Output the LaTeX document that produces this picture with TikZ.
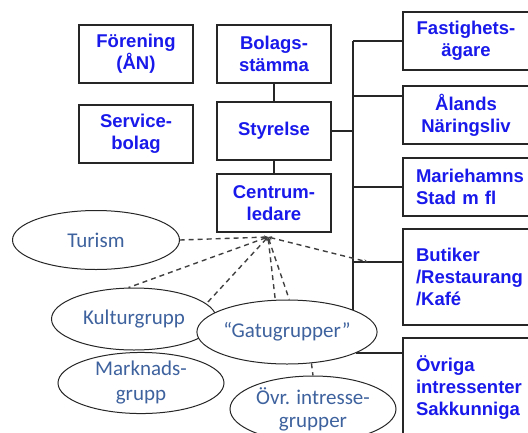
\documentclass[tikz,border=0pt]{standalone}
\usepackage{fontspec}
\setmainfont{Liberation Sans}
\newfontfamily\calibri{Carlito}
\usetikzlibrary{arrows.meta,shapes.geometric}
\definecolor{boxblue}{RGB}{25,25,235}
\definecolor{grpblue}{RGB}{62,98,158}

\begin{document}
\begin{tikzpicture}[x=1pt,y=-1pt,
		box/.style={draw=black!85,line width=1.6pt,fill=white,text=boxblue,font=\bfseries\fontsize{18.5}{22}\selectfont,align=center,minimum width=114,minimum height=58,inner sep=0pt},
		side box/.style={box,minimum width=126},
		grp/.style={ellipse,draw=black!85,line width=1pt,fill=white,text=grpblue,font=\calibri\fontsize{21}{25}\selectfont,align=center,inner sep=0pt,minimum width=166,minimum height=62},
		link/.style={line width=1.5pt,draw=black!85},
		loose/.style={line width=1.4pt,draw=black!75,dash pattern=on 5pt off 4pt},
		tip/.style={{Stealth[length=4pt,width=3.5pt]}-}]
		\useasboundingbox (0,0) rectangle (528,432);
		\clip (0,0) rectangle (528,432);
		% boxes
		\node[box] (forening) at (136,54) {Förening\\(ÅN)};
		\node[box] (service) at (136,134) {Service-\\bolag};
		\node[box] (stamma) at (274,54) {Bolags-\\stämma};
		\node[box] (styrelse) at (274,131) {Styrelse};
		\node[box] (ledare) at (274,203) {Centrum-\\ledare};
		\node[side box] (fastighet) at (466,41) {Fastighets-\\ägare};
		\node[side box] (aland) at (466,115) {Ålands\\Näringsliv};
		\node[side box,align=left,text width=100pt] (mhamn) at (466,187) {Mariehamns\\Stad m fl};
		\node[side box,align=left,text width=100pt,minimum height=96] (butik) at (466,277) {Butiker\\/Restaurang\\/Kafé};
		\node[side box,align=left,text width=100pt,minimum height=100] (ovriga) at (466,388) {Övriga\\intressenter\\Sakkunniga};
		% groups
		\node[grp,minimum width=167,minimum height=59] (turism) at (96,240) {Turism};
		\node[grp,minimum width=165] (kultur) at (134,319) {Kulturgrupp};
		\node[grp,minimum height=61] (marknad) at (141,383) {Marknads-\\grupp};
		\node[grp,minimum width=165,minimum height=64] (gatu) at (287,332) {“Gatugrupper”};
		\node[grp,minimum height=66,font=\calibri\fontsize{21}{23}\selectfont] (ovr) at (313,409) {Övr. intresse-\\grupper};
		\coordinate (hub) at (268,237);
		\coordinate (btip) at (368,262);
		\coordinate (bustop) at (353,41);
		\coordinate (busend) at (353,310);
		% solid lines
		\draw[link] (stamma) -- (styrelse);
		\draw[link] (styrelse) -- (ledare);
		\draw[link] (bustop) -- (busend);
		\draw[link] (styrelse.east) -- (styrelse.east -| bustop);
		\draw[link] (fastighet.west) -- (fastighet.west -| bustop);
		\draw[link] ([yshift=19pt]aland.west) -- ([yshift=19pt]aland.west -| bustop);
		\draw[link] (mhamn.west) -- (mhamn.west -| bustop);
		\draw[link] ([yshift=15pt]butik.west) -- ([yshift=15pt]butik.west -| bustop);
		\draw[link] (gatu.-17) -- (gatu.-17 -| ovriga.west);
		% dashed lines
		\draw[loose,tip] (hub) -- (turism.east);
		\draw[loose,tip] (hub) -- (kultur.100);
		\draw[loose,tip] (hub) -- (kultur.12);
		\draw[loose,tip] (hub) -- (gatu.110);
		\draw[loose,tip] (hub) -- (gatu.86);
		\draw[loose,{Stealth[length=4pt,width=3.5pt]}-{Stealth[length=4pt,width=3.5pt]}] (hub) -- (btip);
		\draw[loose] (gatu.-52) -- (ovr.north);
\end{tikzpicture}
\end{document}
